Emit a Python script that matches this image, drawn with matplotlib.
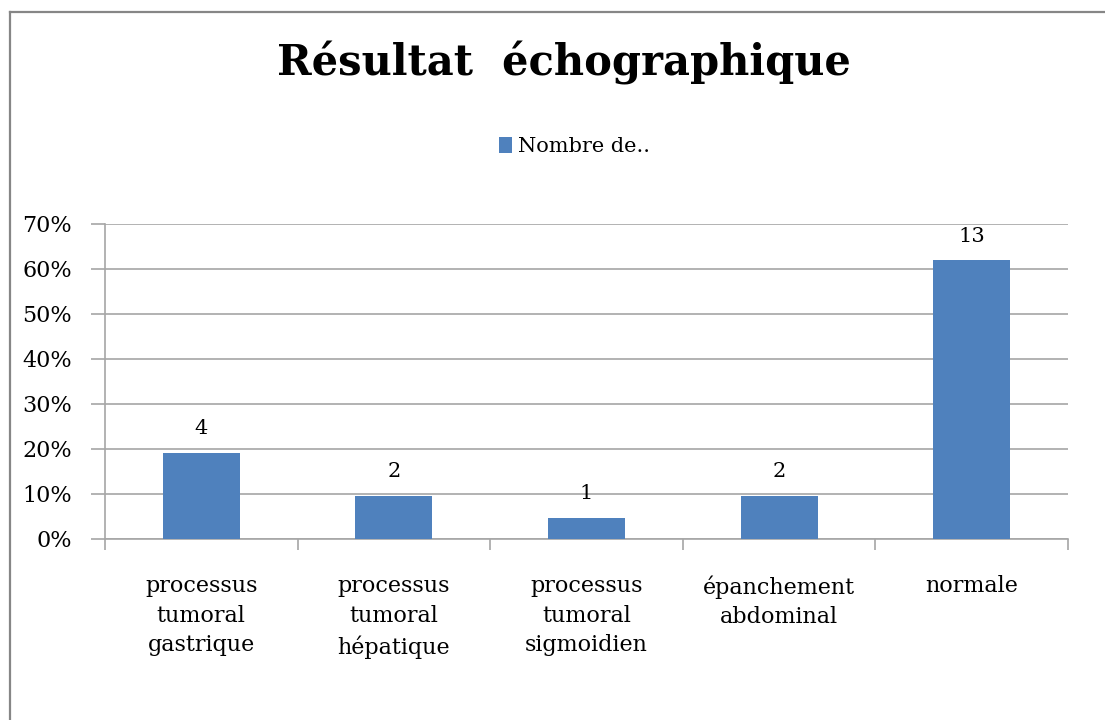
import matplotlib.pyplot as plt
import numpy as np
from matplotlib.lines import Line2D
from matplotlib.patches import Patch
from matplotlib.ticker import FuncFormatter, MultipleLocator

# data
categories = ['processus\ntumoral\ngastrique', 'processus\ntumoral\nhépatique',
              'processus\ntumoral\nsigmoidien', 'épanchement\nabdominal', 'normale']
counts = [4, 2, 1, 2, 13]
percents = [19.05, 9.52, 4.76, 9.52, 61.9]

bar_color = '#4f81bd'
grid_color = '#a6a6a6'
serif = ['DejaVu Serif']

fig = plt.figure(figsize=(11.05, 7.2), dpi=100)
ax = fig.add_axes([0.095, 0.2514, 0.8715, 0.4375])

x = np.arange(len(categories))
ax.bar(x, percents, width=0.4, color=bar_color, zorder=3)
for xi, p, c in zip(x, percents, counts):
    ax.text(xi, p + 3.3, str(c), ha='center', va='bottom', fontsize=15,
            family=serif, zorder=4)

ax.set_xlim(-0.5, len(categories) - 0.5)
ax.set_ylim(0, 70)
ax.yaxis.set_major_locator(MultipleLocator(10))
ax.yaxis.set_major_formatter(FuncFormatter(lambda v, _: '{:.0f}%'.format(v)))
ax.grid(axis='y', color=grid_color, linewidth=1.2, zorder=0)

# category boundaries as outward ticks on the x axis
ax.set_xticks(np.arange(len(categories) + 1) - 0.5, minor=False)
ax.set_xticklabels([])
ax.tick_params(axis='x', direction='out', length=8, color=grid_color, width=1.2)
ax.set_xticks(x, minor=True)
ax.set_xticklabels(categories, minor=True, fontsize=16, family=serif,
                   linespacing=1.45)
ax.tick_params(axis='x', which='minor', length=0, pad=26)
ax.tick_params(axis='y', direction='out', length=10, color=grid_color, width=1.2,
               labelsize=16, pad=14)
for lab in ax.get_yticklabels():
    lab.set_family(serif)

for side in ['top', 'right']:
    ax.spines[side].set_visible(False)
for side in ['left', 'bottom']:
    ax.spines[side].set_color(grid_color)
    ax.spines[side].set_linewidth(1.2)

fig.text(0.51, 0.912, 'Résultat  échographique', ha='center', va='center',
         fontsize=30, fontweight='bold', family=serif)

handle = Patch(facecolor=bar_color, edgecolor='none')
fig.legend([handle], ['Nombre de..'], loc='center', bbox_to_anchor=(0.52, 0.796),
           frameon=False, prop={'family': serif, 'size': 15},
           handlelength=0.6, handleheight=0.8, handletextpad=0.3)

# outer chart border (top and left edges only are visible)
fig.add_artist(Line2D([0.0087, 0.0087], [0, 0.983], transform=fig.transFigure,
                      color='#868686', linewidth=1.6))
fig.add_artist(Line2D([0.0087, 1], [0.983, 0.983], transform=fig.transFigure,
                      color='#868686', linewidth=1.6))

fig.savefig('out.png', dpi=100)
